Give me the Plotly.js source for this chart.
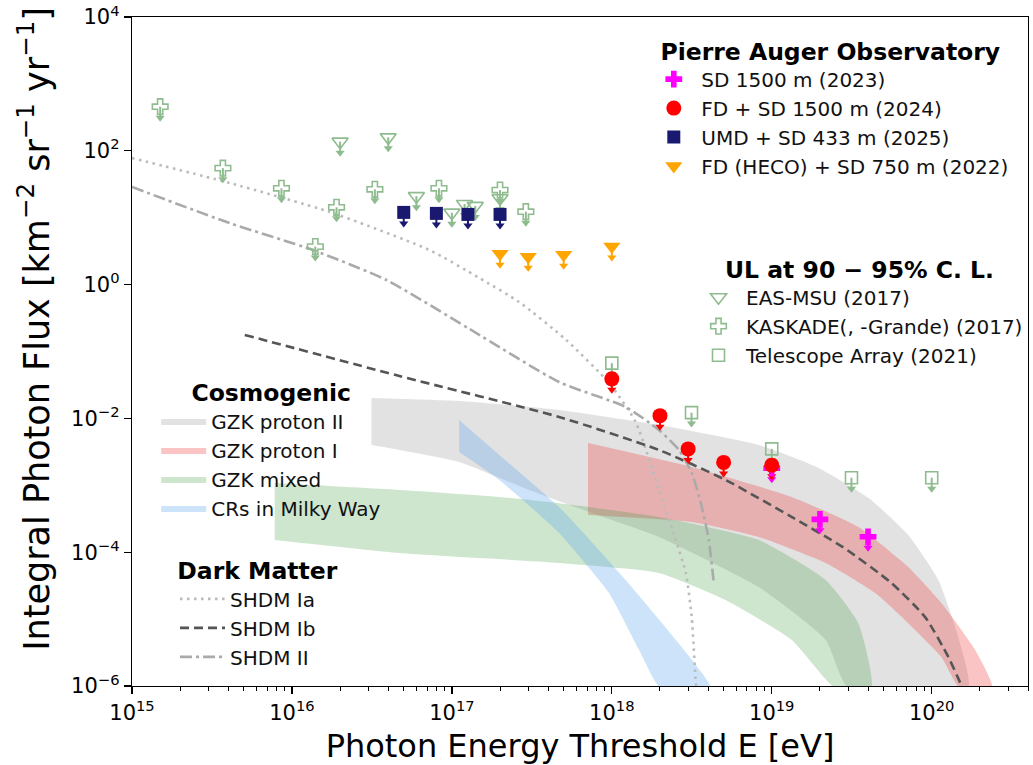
<!DOCTYPE html>
<html>
<head>
<meta charset="utf-8">
<script src="https://cdn.plot.ly/plotly-3.0.1.min.js"></script>
<style>html,body{margin:0;padding:0;background:#fff;}</style>
</head>
<body>
<div id="chart" style="width:1033px;height:765px;"></div>
<script>
// ---- Pierre Auger Observatory upper limits (E threshold [eV], flux [km^-2 sr^-1 yr^-1]) ----
const sd1500E = [1e19, 2e19, 4e19];
const sd1500F = [0.0018, 3.1e-4, 1.7e-4];
const fdsdE = [1e18, 2e18, 3e18, 5e18, 1e19];
const fdsdF = [0.039, 0.011, 0.0035, 0.0022, 0.002];
const umdE = [5e16, 8e16, 1.26e17, 2e17];
const umdF = [12, 11.6, 11.2, 11.2];
const hecoE = [2e17, 3e17, 5e17, 1e18];
const hecoF = [2.9, 2.6, 2.8, 3.7];

// ---- Other experiments (upper limits) ----
const easE = [2e16, 4e16, 6e16, 1e17, 1.2e17, 1.4e17, 2e17];
const easF = [137, 159, 21, 11.9, 16, 15, 19.5];
const kasE = [1.5e15, 3.7e15, 8.6e15, 1.4e16, 1.9e16, 3.3e16, 8.3e16, 2e17, 2.9e17];
const kasF = [456, 55, 27.5, 3.7, 14.3, 26.6, 27.5, 25.9, 12.3];
const taE = [1e18, 3.15e18, 1e19, 3.15e19, 1e20];
const taF = [0.067, 0.0122, 0.0035, 0.0013, 0.0013];

// ---- Cosmogenic bands: upper and lower edges ----
const gzkP2UpE = [3.14e16, 1.11e17, 4.68e17, 1.97e18, 8.28e18, 1.96e19, 4.02e19, 7.13e19, 1.1e20, 1.42e20, 1.69e20];
const gzkP2UpF = [0.0202, 0.0182, 0.0134, 0.00796, 0.0040, 0.00182, 6.5e-4, 1.81e-4, 3.85e-5, 6.9e-6, 9.3e-7];
const gzkP2LoE = [3.14e16, 1.11e17, 3.04e17, 7.5e17, 1.97e18, 8.28e18, 2.17e19, 3.01e19];
const gzkP2LoF = [0.0040, 0.00223, 8.5e-4, 3.85e-4, 1.69e-4, 3.02e-5, 4.9e-6, 9.3e-7];

const gzkP1UpE = [7.1e17, 3.16e18, 1.33e19, 3.48e19, 7.13e19, 1.15e20, 1.87e20, 2.4e20];
const gzkP1UpF = [0.00429, 0.00188, 6.7e-4, 2.38e-4, 6.0e-5, 1.74e-5, 3.45e-6, 9.3e-7];
const gzkP1LoE = [7.1e17, 3.16e18, 8.28e18, 2.17e19, 4.44e19, 7.13e19, 1.15e20, 1.5e20];
const gzkP1LoF = [3.6e-4, 2.83e-4, 1.69e-4, 6.9e-5, 2.45e-5, 8.7e-6, 2.71e-6, 9.3e-7];

const gzkMixUpE = [7.8e15, 4.7e16, 1.98e17, 4.68e17, 1.97e18, 8.28e18, 2.17e19, 3.48e19, 4.2e19];
const gzkMixUpF = [1.08e-3, 8.5e-4, 6.7e-4, 5.4e-4, 3.36e-4, 1.52e-4, 3.85e-5, 8.7e-6, 9.3e-7];
const gzkMixLoE = [7.8e15, 4.7e16, 4.68e17, 1.97e18, 5.15e18, 1.33e19, 2.5e19];
const gzkMixLoF = [1.52e-4, 9.7e-5, 6.9e-5, 4.9e-5, 1.93e-5, 4.9e-6, 9.3e-7];

const mwUpE = [1.11e17, 1.98e17, 4.68e17, 1.22e18, 2.51e18, 4.15e18];
const mwUpF = [0.00946, 2.84e-3, 4.74e-4, 3.85e-5, 4.9e-6, 9.3e-7];
const mwLoE = [1.11e17, 1.98e17, 4.68e17, 9.6e17, 1.48e18, 2.02e18];
const mwLoF = [0.00315, 1.2e-3, 1.94e-4, 2.45e-5, 3.45e-6, 9.3e-7];

// ---- Super-heavy dark matter predictions ----
const shdm1aE = [1e15, 4.08e15, 1.72e16, 7.23e16, 1.48e17, 2.63e17, 5.18e17, 9.6e17, 1.41e18, 1.97e18, 2.51e18, 2.9e18, 3.16e18, 3.35e18, 3.4e18];
const shdm1aF = [78, 33, 12.2, 3.29, 1.26, 0.55, 0.149, 0.0338, 0.00883, 8.5e-4, 1.52e-4, 4.9e-5, 1.07e-5, 1.11e-6, 8e-7];
const shdm1bE = [5.07e15, 4.7e16, 4.68e17, 1.97e18, 5.15e18, 1.33e19, 2.77e19, 5.59e19, 9.1e19, 1.27e20, 1.53e20, 1.6e20];
const shdm1bF = [0.177, 0.043, 0.0105, 0.00337, 1.2e-3, 3.36e-4, 1.2e-4, 3.47e-5, 1.07e-5, 2.72e-6, 1.03e-6, 8e-7];
const shdm2E = [1e15, 4.08e15, 1.35e16, 3.9e16, 1.29e17, 4.68e17, 1.22e18, 1.97e18, 2.63e18, 3.16e18, 3.65e18, 4.04e18, 4.34e18];
const shdm2F = [28.8, 8.3, 3.29, 1.17, 0.217, 0.035, 0.0148, 0.00671, 0.00337, 0.00153, 4.74e-4, 1.52e-4, 3.47e-5];

// ---- Axis ticks ----
const xTickExp = [15, 16, 17, 18, 19, 20];
const yTickExp = [-6, -4, -2, 0, 2, 4];

// ---- Page geometry ----
const W = 1033, H = 765;
const M = {l: 132, r: 5, t: 17, b: 79};
const Y_RANGE = [-6, 4];
const PX_PER_DECADE = (H - M.t - M.b) / (Y_RANGE[1] - Y_RANGE[0]);
const FONT = 'DejaVu Sans, Verdana, sans-serif';
const down = px => Math.pow(10, -px / PX_PER_DECADE);

// Closed band: upper edge left->right, then lower edge right->left
function band(name, upE, upF, loE, loF, color, legend) {
  return {
    type: 'scatter', mode: 'lines', name: name, legend: legend,
    x: upE.concat(loE.slice().reverse()),
    y: upF.concat(loF.slice().reverse()),
    fill: 'toself', fillcolor: color,
    line: {width: 0, color: color, shape: 'spline', smoothing: 0.5},
    hoverinfo: 'skip'
  };
}

function curve(name, E, F, color, dash, legend) {
  return {
    type: 'scatter', mode: 'lines', name: name, legend: legend,
    x: E, y: F, line: {color: color, width: 2.6, dash: dash, shape: 'spline', smoothing: 0.6}
  };
}

// Upper-limit arrows: a short stem below each point, ending in a triangular head
function arrows(E, F, color, legend) {
  const sx = [], sy = [];
  E.forEach((e, i) => { sx.push(e, e, null); sy.push(F[i], F[i] * down(10), null); });
  return [
    {type: 'scatter', mode: 'lines', x: sx, y: sy, legend: legend, showlegend: false,
     line: {color: color, width: 2}, hoverinfo: 'skip'},
    {type: 'scatter', mode: 'markers', x: E, y: F.map(f => f * down(11)), legend: legend,
     showlegend: false, hoverinfo: 'skip',
     marker: {symbol: 'triangle-down', size: 8, color: color, line: {width: 0}}}
  ];
}

function points(name, E, F, symbol, size, color, open, legend) {
  return {
    type: 'scatter', mode: 'markers', name: name, legend: legend, x: E, y: F,
    marker: open
      ? {symbol: symbol, size: size, color: color, line: {color: color, width: 1.6}}
      : {symbol: symbol, size: size, color: color, line: {width: 0}}
  };
}

const GREEN = '#8fbc8f';
const traces = [
  band('GZK proton II', gzkP2UpE, gzkP2UpF, gzkP2LoE, gzkP2LoF, 'rgba(190,190,190,0.45)', 'legend3'),
  band('GZK proton I', gzkP1UpE, gzkP1UpF, gzkP1LoE, gzkP1LoF, 'rgba(240,60,60,0.30)', 'legend3'),
  band('GZK mixed', gzkMixUpE, gzkMixUpF, gzkMixLoE, gzkMixLoF, 'rgba(60,150,60,0.25)', 'legend3'),
  band('CRs in Milky Way', mwUpE, mwUpF, mwLoE, mwLoF, 'rgba(100,170,240,0.33)', 'legend3'),
  curve('SHDM Ia', shdm1aE, shdm1aF, '#bbbbbb', '2.5px,4.5px', 'legend4'),
  curve('SHDM Ib', shdm1bE, shdm1bF, '#555555', '9px,5px', 'legend4'),
  curve('SHDM II', shdm2E, shdm2F, '#aaaaaa', '12px,4px,3px,4px', 'legend4'),
  ...arrows(easE, easF, GREEN, 'legend2'),
  ...arrows(kasE, kasF, GREEN, 'legend2'),
  ...arrows(taE, taF, GREEN, 'legend2'),
  points('EAS-MSU (2017)', easE, easF, 'triangle-down-open', 14, GREEN, true, 'legend2'),
  points('KASKADE(, -Grande) (2017)', kasE, kasF, 'cross-open', 13, GREEN, true, 'legend2'),
  points('Telescope Array (2021)', taE, taF, 'square-open', 12, GREEN, true, 'legend2'),
  ...arrows(sd1500E, sd1500F, '#ff00ff', 'legend'),
  ...arrows(fdsdE, fdsdF, '#ff0000', 'legend'),
  ...arrows(umdE, umdF, '#191970', 'legend'),
  ...arrows(hecoE, hecoF, '#ffa500', 'legend'),
  points('SD 1500 m (2023)', sd1500E, sd1500F, 'cross', 14, '#ff00ff', false, 'legend'),
  points('FD + SD 1500 m (2024)', fdsdE, fdsdF, 'circle', 15, '#ff0000', false, 'legend'),
  points('UMD + SD 433 m (2025)', umdE, umdF, 'square', 13, '#191970', false, 'legend'),
  points('FD (HECO) + SD 750 m (2022)', hecoE, hecoF, 'triangle-down', 15, '#ffa500', false, 'legend')
];

// minor ticks at 2..9 x 10^n
const minorVals = [];
for (let d = 15; d <= 20; d++) for (let m = 2; m <= 9; m++) minorVals.push(m * Math.pow(10, d));

const sup = s => '10<sup>' + s + '</sup>';
const legendBase = {
  bgcolor: 'rgba(0,0,0,0)', borderwidth: 0, traceorder: 'normal', itemwidth: 45,
  font: {family: FONT, size: 20, color: '#111'}, yanchor: 'top', xanchor: 'left'
};
const legendTitle = t => ({text: '<b>' + t + '</b>', side: 'top center', font: {family: FONT, size: 23.5, color: '#000'}});

const layout = {
  width: W, height: H, margin: M,
  paper_bgcolor: '#fff', plot_bgcolor: '#fff',
  font: {family: FONT, color: '#000'},
  xaxis: {
    type: 'log', range: [15, Math.log10(4e20)],
    showline: true, mirror: true, linecolor: '#000', linewidth: 1.3,
    showgrid: false, zeroline: false,
    ticks: 'outside', ticklen: 7, tickwidth: 1.3, tickcolor: '#000',
    tickmode: 'array', tickvals: xTickExp.map(e => Math.pow(10, e)), ticktext: xTickExp.map(e => sup(e)),
    tickfont: {family: FONT, size: 21},
    minor: {tickmode: 'array', tickvals: minorVals, ticks: 'outside', ticklen: 4, tickwidth: 1, tickcolor: '#000', showgrid: false},
    title: {text: 'Photon Energy Threshold E [eV]', font: {family: FONT, size: 32}, standoff: 18},
    automargin: false
  },
  yaxis: {
    type: 'log', range: Y_RANGE,
    showline: true, mirror: true, linecolor: '#000', linewidth: 1.3,
    showgrid: false, zeroline: false,
    ticks: 'outside', ticklen: 7, tickwidth: 1.3, tickcolor: '#000',
    tickmode: 'array', tickvals: yTickExp.map(e => Math.pow(10, e)),
    ticktext: yTickExp.map(e => sup(String(e).replace('-', '\u2212'))),
    tickfont: {family: FONT, size: 21},
    automargin: false
  },
  // y-axis label, sitting a little above the axis midpoint
  annotations: [{
    text: 'Integral Photon Flux [km<sup>\u22122</sup> sr<sup>\u22121</sup> yr<sup>\u22121</sup>]',
    xref: 'paper', yref: 'paper', x: 0, y: 0.534, xshift: -98,
    xanchor: 'center', yanchor: 'middle', textangle: -90, showarrow: false,
    font: {family: FONT, size: 35, color: '#000'}
  }],
  showlegend: true,
  legend: Object.assign({}, legendBase, {x: 0.574, y: 0.982, title: legendTitle('Pierre Auger Observatory')}),
  legend2: Object.assign({}, legendBase, {x: 1.0, xanchor: 'right', y: 0.656, title: legendTitle('UL at 90 \u2212 95% C. L.')}),
  legend3: Object.assign({}, legendBase, {x: 0.027, y: 0.471, title: legendTitle('Cosmogenic')}),
  legend4: Object.assign({}, legendBase, {x: 0.048, y: 0.205, title: legendTitle('Dark Matter')})
};

Plotly.newPlot('chart', traces, layout, {displayModeBar: false, staticPlot: true});
</script>
</body>
</html>
